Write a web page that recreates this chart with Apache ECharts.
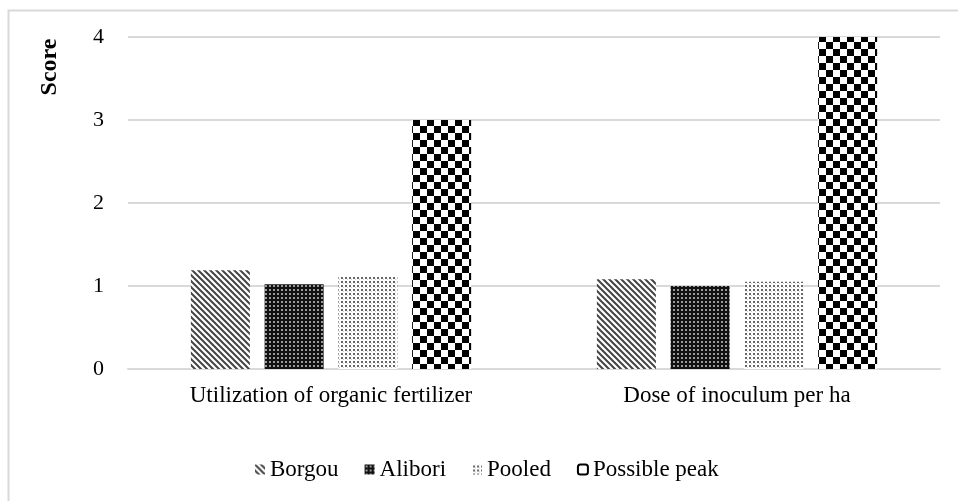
<!DOCTYPE html>
<html><head><meta charset="utf-8">
<script src="https://cdn.jsdelivr.net/npm/echarts@6/dist/echarts.min.js"></script>
<style>html,body{margin:0;padding:0;background:#fff}#c{width:958px;height:501px}</style>
</head><body><div id="c"></div>
<script>
const categories = ['Utilization of organic fertilizer', 'Dose of inoculum per ha'];
const seriesNames = ['Borgou', 'Alibori', 'Pooled', 'Possible peak'];
const borgou = [1.19, 1.08];
const alibori = [1.02, 1.00];
const pooled = [1.11, 1.05];
const possiblePeak = [3.00, 4.00];
const yTicks = [0, 1, 2, 3, 4];

function tile(size, draw) {
  const c = document.createElement('canvas');
  c.width = size; c.height = size;
  const g = c.getContext('2d');
  draw(g, size);
  return { image: c, repeat: 'repeat' };
}
const stripes = tile(6, (g, s) => {
  g.fillStyle = '#fff'; g.fillRect(0, 0, s, s);
  g.strokeStyle = '#444'; g.lineWidth = 2;
  g.beginPath();
  g.moveTo(-1, -1); g.lineTo(s + 1, s + 1);
  g.moveTo(-1 - s, -1); g.lineTo(1, s + 1);
  g.moveTo(s - 1, -1); g.lineTo(2 * s + 1, s + 1);
  g.stroke();
});
const darkDots = tile(4, (g, s) => {
  g.fillStyle = '#111'; g.fillRect(0, 0, s, s);
  g.fillStyle = '#9a9a9a'; g.fillRect(1, 1, 2, 2);
});
const lightDots = tile(4, (g, s) => {
  g.fillStyle = '#fff'; g.fillRect(0, 0, s, s);
  g.fillStyle = '#666'; g.fillRect(1, 1, 2, 2);
  g.fillStyle = '#ccc'; g.fillRect(3, 3, 1, 1);
});
const checker = tile(14, (g, s) => {
  g.fillStyle = '#fff'; g.fillRect(0, 0, s, s);
  g.fillStyle = '#000'; g.fillRect(0, 0, 7, 7); g.fillRect(7, 7, 7, 7);
});
const fills = [stripes, darkDots, lightDots, checker];
const values = [borgou, alibori, pooled, possiblePeak];

const font = '"Liberation Serif", "Times New Roman", serif';
const chart = echarts.init(document.getElementById('c'), null, { renderer: 'canvas' });
chart.setOption({
  animation: false,
  backgroundColor: '#fff',
  textStyle: { fontFamily: font },
  grid: { left: 128, right: 18, top: 37, bottom: 132, containLabel: false },
  legend: {
    top: 453, left: 250,
    icon: 'rect', itemWidth: 10, itemHeight: 10, itemGap: 26,
    textStyle: { fontFamily: font, fontSize: 23, color: '#000', padding: [0, 0, 0, 0] },
    data: seriesNames.map((n, i) => i === 3
      ? { name: n, icon: 'roundRect', itemStyle: { color: '#fff', borderColor: '#000', borderWidth: 2 } }
      : { name: n })
  },
  xAxis: {
    type: 'category', data: categories,
    axisLine: { show: true, lineStyle: { color: '#d9d9d9', width: 2 } },
    axisTick: { show: false },
    axisLabel: { color: '#000', fontSize: 23, fontFamily: font, margin: 15 }
  },
  yAxis: {
    type: 'value', min: 0, max: 4, interval: 1,
    axisLine: { show: false }, axisTick: { show: false },
    axisLabel: { color: '#000', fontSize: 22, fontFamily: font, margin: 24,
      formatter: v => yTicks.includes(v) ? String(v) : '' },
    splitLine: { lineStyle: { color: '#d9d9d9', width: 2 } }
  },
  graphic: [
    { type: 'rect', shape: { x: 8.5, y: 10.5, width: 960, height: 500 }, style: { fill: 'none', stroke: '#d9d9d9', lineWidth: 2 }, silent: true, z: -1 },
    { type: 'text', x: 50, y: 67, rotation: Math.PI / 2,
      style: { text: 'Score', font: 'bold 24px ' + font, fill: '#000', align: 'center', verticalAlign: 'middle' } }
  ],
  series: seriesNames.map((n, i) => ({
    name: n, type: 'bar', data: values[i],
    barWidth: 59, barGap: '25%',
    itemStyle: { color: fills[i] }
  }))
});
</script></body></html>
